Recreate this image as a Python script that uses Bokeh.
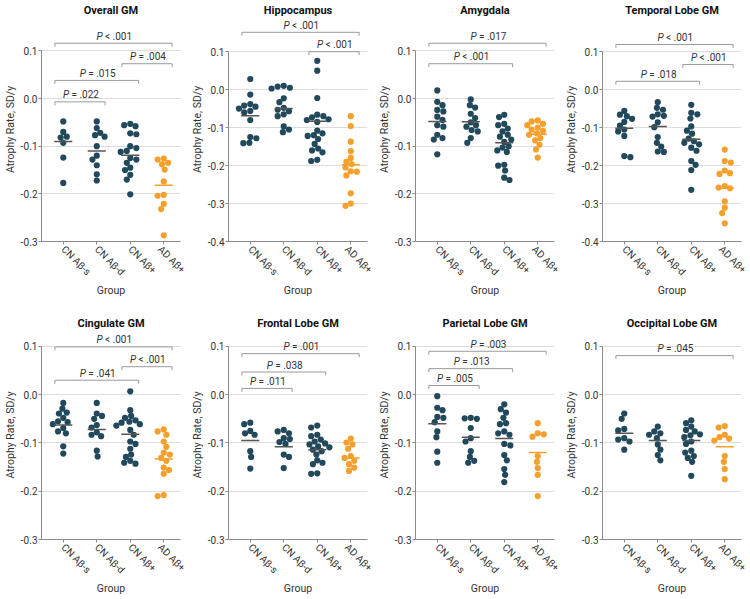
import math
import numpy as np
from bokeh.plotting import figure
from bokeh.layouts import gridplot
from bokeh.models import Range1d, FixedTicker, NumeralTickFormatter
from bokeh.core.properties import value
from bokeh.embed import file_html
from bokeh.resources import INLINE

groups = ["CN Aβ-s", "CN Aβ-d", "CN Aβ+", "AD Aβ+"]

# ---------------- data (atrophy rate, SD/y) ----------------
overall_cn_s = [-0.048, -0.070, -0.080, -0.082, -0.093, -0.124, -0.177]
overall_cn_d = [-0.048, -0.062, -0.072, -0.077, -0.080, -0.100, -0.120, -0.128, -0.140, -0.159, -0.172]
overall_cn_p = [-0.053, -0.056, -0.058, -0.073, -0.075, -0.100, -0.104, -0.110, -0.112, -0.125, -0.128,
                -0.135, -0.145, -0.150, -0.160, -0.170, -0.201]
overall_ad_p = [-0.126, -0.128, -0.135, -0.138, -0.149, -0.174, -0.202, -0.204, -0.221, -0.232, -0.287]
overall_means = [-0.090, -0.110, -0.119, -0.182]
overall_pairs = [(0, 1), (0, 2), (2, 3), (0, 3)]
overall_plabels = ["= .022", "= .015", "= .004", "< .001"]

hippo_cn_s = [0.028, -0.013, -0.038, -0.042, -0.045, -0.050, -0.056, -0.060, -0.080, -0.125, -0.128, -0.140, -0.141]
hippo_cn_d = [0.010, 0.008, 0.005, 0.003, -0.023, -0.033, -0.048, -0.053, -0.057, -0.065, -0.070, -0.097, -0.105, -0.112]
hippo_cn_p = [0.076, 0.050, -0.022, -0.066, -0.070, -0.073, -0.078, -0.080, -0.085, -0.108, -0.115, -0.120,
              -0.122, -0.130, -0.143, -0.155, -0.160, -0.165, -0.185, -0.188]
hippo_ad_p = [-0.070, -0.096, -0.137, -0.162, -0.180, -0.190, -0.196, -0.205, -0.215, -0.216, -0.226, -0.273, -0.300, -0.306]
hippo_means = [-0.069, -0.050, -0.083, -0.198]
hippo_pairs = [(2, 3), (0, 3)]
hippo_plabels = ["< .001", "< .001"]

amyg_cn_s = [0.017, -0.007, -0.014, -0.024, -0.027, -0.038, -0.045, -0.056, -0.059, -0.076, -0.083, -0.086, -0.117]
amyg_cn_d = [-0.002, -0.014, -0.019, -0.032, -0.041, -0.050, -0.056, -0.059, -0.066, -0.069, -0.083, -0.093]
amyg_cn_p = [-0.034, -0.039, -0.053, -0.056, -0.063, -0.069, -0.076, -0.080, -0.086, -0.091, -0.100, -0.103,
             -0.109, -0.112, -0.139, -0.141, -0.151, -0.166, -0.171]
amyg_ad_p = [-0.046, -0.048, -0.053, -0.056, -0.061, -0.065, -0.068, -0.073, -0.076, -0.083, -0.088, -0.097, -0.107, -0.124]
amyg_means = [-0.048, -0.049, -0.093, -0.075]
amyg_pairs = [(0, 2), (0, 3)]
amyg_plabels = ["< .001", "= .017"]

temp_cn_s = [-0.056, -0.066, -0.070, -0.077, -0.085, -0.095, -0.105, -0.110, -0.122, -0.175, -0.178]
temp_cn_d = [-0.033, -0.048, -0.053, -0.065, -0.069, -0.071, -0.086, -0.099, -0.125, -0.140, -0.150, -0.163, -0.164]
temp_cn_p = [-0.040, -0.061, -0.065, -0.076, -0.097, -0.108, -0.116, -0.129, -0.136, -0.140, -0.144, -0.153,
             -0.161, -0.188, -0.198, -0.212, -0.264]
temp_ad_p = [-0.158, -0.188, -0.192, -0.213, -0.220, -0.222, -0.254, -0.258, -0.260, -0.294, -0.311, -0.325, -0.352]
temp_means = [-0.102, -0.097, -0.131, -0.259]
temp_pairs = [(0, 2), (2, 3), (0, 3)]
temp_plabels = ["= .018", "< .001", "< .001"]

cing_cn_s = [-0.017, -0.029, -0.037, -0.039, -0.048, -0.055, -0.057, -0.061, -0.069, -0.076, -0.080, -0.107, -0.122]
cing_cn_d = [-0.017, -0.039, -0.044, -0.050, -0.063, -0.068, -0.078, -0.083, -0.086, -0.116, -0.128]
cing_cn_p = [0.007, -0.032, -0.044, -0.048, -0.053, -0.056, -0.058, -0.061, -0.064, -0.073, -0.083, -0.097,
             -0.102, -0.112, -0.124, -0.129, -0.137, -0.141, -0.143]
cing_ad_p = [-0.072, -0.076, -0.083, -0.097, -0.108, -0.120, -0.124, -0.131, -0.137, -0.151, -0.156, -0.164, -0.208, -0.210]
cing_means = [-0.063, -0.072, -0.082, -0.133]
cing_pairs = [(0, 2), (2, 3), (0, 3)]
cing_plabels = ["= .041", "< .001", "< .001"]

front_cn_s = [-0.058, -0.061, -0.075, -0.080, -0.083, -0.117, -0.129, -0.153]
front_cn_d = [-0.073, -0.076, -0.080, -0.090, -0.092, -0.098, -0.102, -0.124, -0.129, -0.152]
front_cn_p = [-0.064, -0.068, -0.083, -0.086, -0.093, -0.097, -0.101, -0.103, -0.107, -0.109, -0.114, -0.117,
              -0.124, -0.136, -0.141, -0.144, -0.163, -0.164]
front_ad_p = [-0.091, -0.099, -0.103, -0.112, -0.127, -0.131, -0.137, -0.144, -0.151, -0.158]
front_means = [-0.095, -0.108, -0.114, -0.131]
front_pairs = [(0, 1), (0, 2), (0, 3)]
front_plabels = ["= .011", "= .038", "= .001"]

par_cn_s = [-0.003, -0.027, -0.032, -0.046, -0.048, -0.057, -0.076, -0.088, -0.118, -0.141]
par_cn_d = [-0.048, -0.049, -0.050, -0.069, -0.090, -0.097, -0.117, -0.129, -0.137, -0.141]
par_cn_p = [-0.020, -0.030, -0.037, -0.048, -0.059, -0.061, -0.076, -0.080, -0.083, -0.102, -0.105, -0.125,
            -0.136, -0.154, -0.166, -0.181]
par_ad_p = [-0.059, -0.080, -0.082, -0.087, -0.127, -0.139, -0.152, -0.166, -0.210]
par_means = [-0.060, -0.088, -0.091, -0.120]
par_pairs = [(0, 1), (0, 2), (0, 3)]
par_plabels = ["= .005", "= .013", "= .003"]

occ_cn_s = [-0.039, -0.050, -0.071, -0.074, -0.090, -0.093, -0.097, -0.114]
occ_cn_d = [-0.066, -0.076, -0.080, -0.083, -0.090, -0.103, -0.114, -0.125, -0.136]
occ_cn_p = [-0.053, -0.059, -0.066, -0.073, -0.076, -0.082, -0.084, -0.088, -0.097, -0.102, -0.116, -0.120,
            -0.127, -0.131, -0.139, -0.168]
occ_ad_p = [-0.065, -0.068, -0.083, -0.088, -0.091, -0.095, -0.127, -0.139, -0.154, -0.175]
occ_means = [-0.080, -0.095, -0.095, -0.108]
occ_pairs = [(0, 3)]
occ_plabels = ["= .045"]

# ---------------- layout (positions, not data) ----------------
panels = [
    dict(title="Overall GM", data=[overall_cn_s, overall_cn_d, overall_cn_p, overall_ad_p], means=overall_means,
         pairs=overall_pairs, labels=overall_plabels, levels=[-0.007, 0.038, 0.073, 0.116], ybot=-0.3, ytop=0.17, row=0),
    dict(title="Hippocampus", data=[hippo_cn_s, hippo_cn_d, hippo_cn_p, hippo_ad_p], means=hippo_means,
         pairs=hippo_pairs, labels=hippo_plabels, levels=[0.100, 0.151], ybot=-0.4, ytop=0.19, row=0),
    dict(title="Amygdala", data=[amyg_cn_s, amyg_cn_d, amyg_cn_p, amyg_ad_p], means=amyg_means,
         pairs=amyg_pairs, labels=amyg_plabels, levels=[0.073, 0.116], ybot=-0.3, ytop=0.17, row=0),
    dict(title="Temporal Lobe GM", data=[temp_cn_s, temp_cn_d, temp_cn_p, temp_ad_p], means=temp_means,
         pairs=temp_pairs, labels=temp_plabels, levels=[0.022, 0.066, 0.119], ybot=-0.4, ytop=0.19, row=0),
    dict(title="Cingulate GM", data=[cing_cn_s, cing_cn_d, cing_cn_p, cing_ad_p], means=cing_means,
         pairs=cing_pairs, labels=cing_plabels, levels=[0.030, 0.058, 0.099], ybot=-0.3, ytop=0.133, row=1),
    dict(title="Frontal Lobe GM", data=[front_cn_s, front_cn_d, front_cn_p, front_ad_p], means=front_means,
         pairs=front_pairs, labels=front_plabels, levels=[0.013, 0.047, 0.085], ybot=-0.3, ytop=0.133, row=1),
    dict(title="Parietal Lobe GM", data=[par_cn_s, par_cn_d, par_cn_p, par_ad_p], means=par_means,
         pairs=par_pairs, labels=par_plabels, levels=[0.019, 0.054, 0.090], ybot=-0.3, ytop=0.133, row=1),
    dict(title="Occipital Lobe GM", data=[occ_cn_s, occ_cn_d, occ_cn_p, occ_ad_p], means=occ_means,
         pairs=occ_pairs, labels=occ_plabels, levels=[0.081], ybot=-0.3, ytop=0.133, row=1),
]

FONT = "Roboto"
CN_COLOR = "#22495b"
AD_COLOR = "#f5a02c"
MEAN_CN = "#555555"
TEXT = "#333333"
AXIS = "#8a8a8a"
W = 187
ROW_H = [300, 298]
TOP_B = [15, 30]
LEFT_B, RIGHT_B = 36, 7
XLO, XHI = -0.65, 3.5
EST_BOTTOM = 59


def swarm(vals, ppu_x, ppu_y, diam=5.8, step=0.9):
    vals = np.asarray(vals, dtype=float)
    order = np.argsort(-vals)
    placed = []
    offs = np.zeros(len(vals))
    for n, i in enumerate(order):
        py = vals[i] * ppu_y
        sign = 1 if n % 2 == 0 else -1
        cands = [0.0]
        for j in range(1, 40):
            cands += [sign * j * step, -sign * j * step]
        for c in cands:
            if all(math.hypot(c - qx, py - qy) >= diam for qx, qy in placed):
                placed.append((c, py))
                offs[i] = c / ppu_x
                break
    return offs


def make_panel(cfg):
    r = cfg["row"]
    frame_h = ROW_H[r] - TOP_B[r] - EST_BOTTOM
    frame_w = W - LEFT_B - RIGHT_B
    ppu_y = frame_h / (cfg["ytop"] - cfg["ybot"])
    ppu_x = frame_w / (XHI - XLO)

    p = figure(width=W, height=ROW_H[r], x_range=Range1d(XLO, XHI),
               y_range=Range1d(cfg["ybot"], cfg["ytop"]), output_backend="svg",
               toolbar_location=None, title=cfg["title"],
               min_border_left=LEFT_B, min_border_right=RIGHT_B,
               min_border_top=TOP_B[r], min_border_bottom=30)
    p.outline_line_color = None
    p.background_fill_color = "white"
    p.border_fill_color = "white"

    p.title.text_font = FONT
    p.title.text_font_size = "11px"
    p.title.text_font_style = "bold"
    p.title.text_color = "#111111"
    p.title.align = "center"
    p.title.standoff = 2

    ticks_y = [round(cfg["ybot"] + 0.1 * k, 1) for k in range(int(round((0.1 - cfg["ybot"]) / 0.1)) + 1)]
    p.yaxis.ticker = FixedTicker(ticks=ticks_y)
    p.yaxis.formatter = NumeralTickFormatter(format="0.0")
    p.yaxis.bounds = (cfg["ybot"], 0.1)
    p.yaxis.axis_label = "Atrophy Rate, SD/y"
    p.yaxis.minor_tick_line_color = None
    p.yaxis.major_tick_in = 0
    p.yaxis.major_tick_out = 3
    p.yaxis.major_label_standoff = 1
    p.yaxis.axis_label_standoff = 1

    p.xaxis.ticker = FixedTicker(ticks=list(range(len(groups))))
    p.xaxis.major_label_overrides = {i: g for i, g in enumerate(groups)}
    p.xaxis.major_label_orientation = -math.pi / 4
    p.xaxis.axis_label = "Group"
    p.xaxis.minor_tick_line_color = None
    p.xaxis.major_tick_in = 0
    p.xaxis.major_tick_out = 3
    p.xaxis.major_label_standoff = 3
    p.xaxis.axis_label_standoff = 0

    for ax in (p.xaxis, p.yaxis):
        ax.axis_line_color = AXIS
        ax.major_tick_line_color = AXIS
        ax.major_label_text_font = FONT
        ax.major_label_text_font_size = "10px"
        ax.major_label_text_color = TEXT
        ax.axis_label_text_font = FONT
        ax.axis_label_text_font_size = "10.5px"
        ax.axis_label_text_font_style = "normal"
        ax.axis_label_text_color = TEXT

    p.xgrid.grid_line_color = None
    p.ygrid.grid_line_color = "#dddddd"
    p.ygrid.grid_line_width = 1

    for gi, vals in enumerate(cfg["data"]):
        is_ad = groups[gi].startswith("AD")
        color = AD_COLOR if is_ad else CN_COLOR
        offs = swarm(vals, ppu_x, ppu_y)
        xs = [gi + o for o in offs]
        m = cfg["means"][gi]
        mcol = AD_COLOR if is_ad else MEAN_CN
        p.scatter(xs, vals, size=6.2, fill_color=color, line_color=color, line_width=0)
        p.segment(x0=[gi - 0.27], x1=[gi + 0.27], y0=[m], y1=[m], line_color=mcol, line_width=1.5)

    tick = 3.5 / ppu_y
    for (a, b), lab, lev in zip(cfg["pairs"], cfg["labels"], cfg["levels"]):
        x0, x1 = a - 0.25, b + 0.25
        p.segment(x0=[x0, x0, x1], x1=[x1, x0, x1], y0=[lev, lev, lev], y1=[lev, lev - tick, lev - tick],
                  line_color="#9a9a9a", line_width=1)
        xc = (x0 + x1) / 2
        p.text(x=[xc], y=[lev], text=["P"], text_align="right", text_baseline="bottom",
               x_offset=-11, y_offset=-1.5, text_font=value(FONT), text_font_style="italic",
               text_font_size="10px", text_color=TEXT)
        p.text(x=[xc], y=[lev], text=[lab], text_align="left", text_baseline="bottom",
               x_offset=-8.5, y_offset=-1.5, text_font=value(FONT), text_font_style="normal",
               text_font_size="10px", text_color=TEXT)
    return p


figs = [make_panel(c) for c in panels]
grid = gridplot([figs[:4], figs[4:]], toolbar_location=None)

open("out.html", "w").write(file_html(grid, INLINE))
